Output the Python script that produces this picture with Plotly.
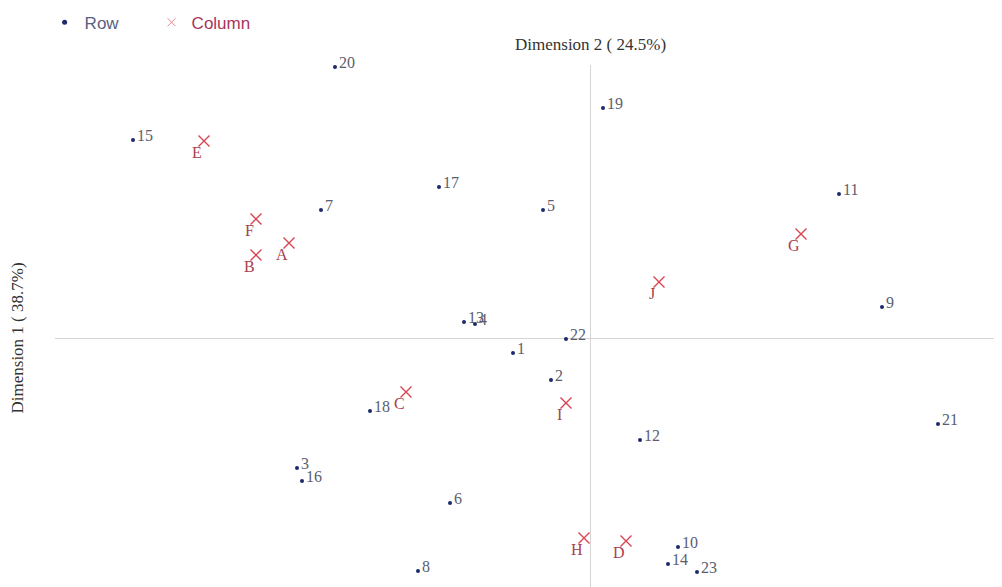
import plotly.graph_objects as go

# Row points (Dimension 2 -> x, Dimension 1 -> y)
row_labels = [str(i) for i in range(1, 24)]
row_x = [-0.154, -0.078, -0.586, -0.230, -0.094, -0.280, -0.538, -0.344, 0.584, 0.176,
         0.498, 0.100, -0.252, 0.156, -0.914, -0.576, -0.302, -0.440, 0.026, -0.510,
         0.696, -0.048, 0.214]
row_y = [-0.030, -0.084, -0.260, 0.028, 0.256, -0.330, 0.256, -0.466, 0.062, -0.418,
         0.288, -0.204, 0.032, -0.452, 0.396, -0.286, 0.302, -0.146, 0.460, 0.542,
         -0.172, -0.002, -0.468]

# Column points
col_labels = ["A", "B", "C", "D", "E", "F", "G", "H", "I", "J"]
col_x = [-0.602, -0.668, -0.368, 0.072, -0.772, -0.668, 0.422, -0.012, -0.048, 0.138]
col_y = [0.190, 0.166, -0.108, -0.406, 0.394, 0.238, 0.208, -0.400, -0.130, 0.112]

dim1_title = "Dimension 1 ( 38.7%)"
dim2_title = "Dimension 2 ( 24.5%)"

ROW_C = "#1c2a6b"
COL_C = "#d8434f"
ROW_TXT = "#5a5e6e"
COL_TXT = "#a8404c"

fig = go.Figure()
fig.add_trace(go.Scatter(x=row_x, y=row_y, mode="markers", name="Row", showlegend=False,
                         marker=dict(color=ROW_C, size=4), hoverinfo="skip", cliponaxis=False))
fig.add_trace(go.Scatter(x=col_x, y=col_y, mode="markers", name="Column", showlegend=False,
                         marker=dict(color=COL_C, size=11, symbol="x-thin",
                                     line=dict(color=COL_C, width=1.4)), hoverinfo="skip",
                         cliponaxis=False))
# legend keys
fig.add_trace(go.Scatter(x=[None], y=[None], mode="markers",
                         name="<span style='color:#56627e'>Row</span>",
                         marker=dict(color=ROW_C, size=5)))
fig.add_trace(go.Scatter(x=[None], y=[None], mode="markers",
                         name="<span style='color:#a8345a'>Column</span>",
                         marker=dict(color="#e08a90", size=8, symbol="x-thin",
                                     line=dict(color="#e08a90", width=1))))

for lx, ly, lt in zip(row_x, row_y, row_labels):
    fig.add_annotation(x=lx, y=ly, text=lt, showarrow=False, xanchor="left", yanchor="middle",
                       xshift=2, yshift=5,
                       font=dict(family="Liberation Serif", size=16, color=ROW_TXT))
for lx, ly, lt in zip(col_x, col_y, col_labels):
    fig.add_annotation(x=lx, y=ly, text=lt, showarrow=False, xanchor="center", yanchor="middle",
                       xshift=-7, yshift=-11,
                       font=dict(family="Liberation Serif", size=16, color=COL_TXT))

fig.add_annotation(x=0, y=1.0, xref="x", yref="paper", text=dim2_title, showarrow=False,
                   yanchor="bottom", yshift=9,
                   font=dict(family="Liberation Serif", size=17, color="#333333"))
fig.add_annotation(x=0, y=0, xref="paper", yref="y", text=dim1_title, showarrow=False,
                   textangle=-90, xanchor="right", xshift=-27,
                   font=dict(family="Liberation Serif", size=17, color="#333333"))

fig.update_xaxes(range=[-1.07, 0.82], showgrid=False, showticklabels=False, ticks="",
                 zeroline=True, zerolinecolor="#d4d4d4", zerolinewidth=1, showline=False)
fig.update_yaxes(range=[-0.498, 0.546], showgrid=False, showticklabels=False, ticks="",
                 zeroline=True, zerolinecolor="#d4d4d4", zerolinewidth=1, showline=False)

fig.update_layout(
    width=994, height=579,
    margin=dict(l=47, r=2, t=57, b=0, autoexpand=False),
    plot_bgcolor="white", paper_bgcolor="white",
    showlegend=True,
    legend=dict(orientation="h", x=-0.011, xanchor="left", y=1.081, yanchor="middle",
                entrywidth=62, entrywidthmode="pixels",
                font=dict(family="Liberation Sans", size=17, color="#56627e")),
)
fig.write_html("out.html")
